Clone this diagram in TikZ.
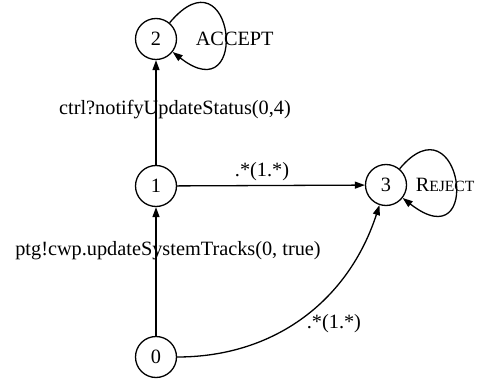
\documentclass[tikz,border=0pt]{standalone}
\usepackage{fontspec}
\setmainfont{Liberation Serif}
\usetikzlibrary{arrows.meta}

\begin{document}
\begin{tikzpicture}[x=1pt,y=1pt,line width=1.3pt,
    >={Triangle[length=10pt,width=7pt]},
    font=\fontsize{20.3}{24}\selectfont]
  \useasboundingbox (0,0) rectangle (497,383);

  \begin{scope}[every node/.style={circle,draw,minimum size=41pt,inner sep=0pt}]
    \node (0) at (156,26)  {0};
    \node (1) at (156,197) {1};
    \node (2) at (156,344) {2};
    \node (3) at (386,198) {3};
  \end{scope}

  \begin{scope}[every node/.style={anchor=base west,inner sep=0pt}]
    \node (accept) at ([xshift=18pt]2.base east) {ACCEPT};
    \node (reject) at ([xshift=8pt]3.base east) {R{\fontsize{15.6}{18}\selectfont EJECT}};
  \end{scope}

  \begin{scope}[every node/.style={anchor=base,inner sep=0pt}]

    \begin{scope}[every edge/.style={draw,->}]
      \path (0) edge node[xshift=12pt,yshift=16.5pt] {ptg!cwp.updateSystemTracks(0, true)} (1);
      \path (1) edge node[xshift=19pt,yshift=-2.5pt] {ctrl?notifyUpdateStatus(0,4)} (2);
      \path (1) edge node[xshift=-9pt,yshift=9pt] {.*(1.*)} (3);
      \path (0) edge[out=0,in=-108] node[xshift=30pt,yshift=-12pt] {.*(1.*)} (3);
      \path (2) edge[out=50,in=-38,out distance=100pt,in distance=100pt] (2);
      \path (3) edge[out=50,in=-38,out distance=96pt,in distance=104pt] (3);
    \end{scope}
  \end{scope}

\end{tikzpicture}
\end{document}
